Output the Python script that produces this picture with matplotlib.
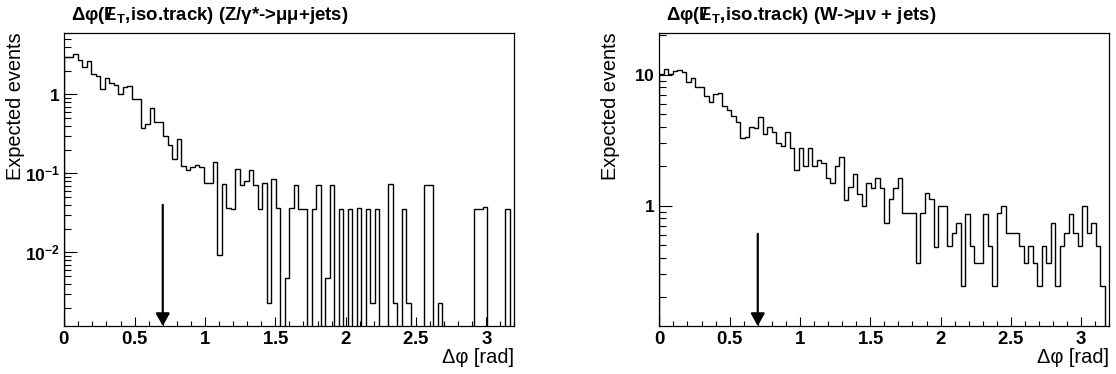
import numpy as np
import matplotlib
matplotlib.use("Agg")
import matplotlib.pyplot as plt
from matplotlib.ticker import FixedLocator, LogLocator, FuncFormatter, MultipleLocator

# binning of both histograms: 100 bins in [0, 3.2] rad
n_bins = 100
x_min, x_max = 0.0, 3.2

# Z/gamma* -> mumu + jets (expected events per bin)
zmm_counts = [
    3.0, 3.0, 3.21, 2.72, 2.24, 2.67, 1.79, 1.71, 1.16, 1.59,
    1.38, 1.31, 1.01, 1.23, 1.27, 0.865, 0.865, 0.371, 0.417, 0.678,
    0.451, 0.451, 0.300, 0.228, 0.152, 0.269, 0.124, 0.110, 0.121, 0.126,
    0.119, 0.0762, 0.0762, 0.141, 0.00925, 0.0726, 0.0367, 0.035, 0.1146, 0.0705,
    0.0792, 0.109, 0.0705, 0.035, 0.0747, 0.00231, 0.0839, 0.0367, 0.0, 0.00469,
    0.0367, 0.0719, 0.035, 0.035, 0.0, 0.035, 0.0705, 0.0, 0.00469, 0.0705,
    0.0, 0.035, 0.0, 0.035, 0.0, 0.0367, 0.0, 0.035, 0.00231, 0.035,
    0.0, 0.0, 0.0726, 0.00231, 0.0, 0.035, 0.00231, 0.0, 0.0, 0.0,
    0.0705, 0.0705, 0.0, 0.00231, 0.0, 0.0, 0.0, 0.0, 0.0, 0.0,
    0.0, 0.035, 0.035, 0.0371, 0.0, 0.0, 0.0, 0.0, 0.035, 0.0,
]

# W -> mu nu + jets
wmn_counts = [
    10.2, 11.0, 10.2, 10.7, 10.9, 10.4, 8.84, 9.49, 8.0, 8.0,
    6.87, 6.22, 7.12, 7.20, 5.77, 5.37, 4.86, 4.38, 3.26, 3.36,
    4.01, 3.89, 4.78, 3.50, 4.01, 3.63, 2.99, 2.87, 3.63, 2.77,
    1.87, 2.74, 2.01, 2.74, 2.01, 2.23, 2.13, 1.62, 1.48, 2.01,
    2.37, 1.10, 1.38, 1.74, 1.23, 0.995, 1.48, 1.36, 1.62, 1.36,
    0.742, 1.12, 1.36, 1.62, 0.874, 0.874, 0.874, 0.363, 0.874, 1.24,
    1.12, 0.486, 0.995, 0.995, 0.492, 0.622, 0.742, 0.244, 0.863, 0.492,
    0.367, 0.367, 0.863, 0.492, 0.244, 0.874, 0.994, 0.622, 0.622, 0.622,
    0.492, 0.367, 0.492, 0.367, 0.244, 0.492, 0.367, 0.742, 0.244, 0.492,
    0.622, 0.863, 0.622, 0.492, 0.994, 0.622, 0.742, 0.492, 0.244, 0.0,
]

titles = [
    "Δφ(" + r"$\,/\!\!\!E_{T}$" + ",iso.track) (Z/γ*->μμ+jets)",
    "Δφ(" + r"$\,/\!\!\!E_{T}$" + ",iso.track) (W->μν + jets)",
]
y_ranges = [(0.00117, 6.03), (0.1206, 20.9)]
cut_value = 0.7
arrow_tops = [0.04, 0.61]

plt.rcParams['font.family'] = ['Liberation Sans', 'DejaVu Sans']
plt.rcParams['mathtext.fontset'] = 'custom'
plt.rcParams['mathtext.rm'] = 'Liberation Sans'
plt.rcParams['mathtext.bf'] = 'Liberation Sans:bold'
plt.rcParams['mathtext.it'] = 'Liberation Sans:italic'
plt.rcParams['mathtext.default'] = 'bf'


def log_label(v, pos):
    e = int(round(np.log10(v)))
    if e == 0:
        return r'$1$'
    if e == 1:
        return r'$10$'
    return r'$10^{%d}$' % e


def draw_panel(ax, counts, title, y_range, arrow_top):
    edges = np.linspace(x_min, x_max, n_bins + 1)
    floor = y_range[0] * 1e-3
    vals = np.maximum(np.array(counts), floor)  # empty bins drop to the bottom
    ax.stairs(vals, edges, baseline=floor, color='black', lw=1.0)

    ax.set_yscale('log')
    ax.set_xlim(x_min, x_max)
    ax.set_ylim(*y_range)

    ax.xaxis.set_major_locator(FixedLocator([0, 0.5, 1, 1.5, 2, 2.5, 3]))
    ax.xaxis.set_minor_locator(MultipleLocator(0.1))
    ax.xaxis.set_major_formatter(FuncFormatter(lambda v, p: r'$%g$' % v))
    ax.yaxis.set_major_locator(LogLocator(base=10, subs=(1.0,)))
    ax.yaxis.set_minor_locator(LogLocator(base=10, subs=np.arange(2, 10), numticks=20))
    ax.yaxis.set_major_formatter(FuncFormatter(log_label))
    ax.yaxis.set_minor_formatter(FuncFormatter(lambda v, p: ''))

    ax.tick_params(which='both', direction='in', top=False, right=False,
                   width=0.8, color='black')
    ax.tick_params(axis='x', which='major', length=6.5, pad=3.5, labelsize=13.4)
    ax.tick_params(axis='x', which='minor', length=3.5)
    ax.tick_params(axis='y', which='major', length=9, pad=3, labelsize=12.6)
    ax.tick_params(axis='y', which='minor', length=5)
    for s in ax.spines.values():
        s.set_linewidth(0.9)

    ax.set_xlabel("Δφ [rad]", fontsize=14.4, loc='right')
    ax.xaxis.set_label_coords(1.0, -0.075)
    ax.set_ylabel("Expected events", fontsize=14.4, loc='top')
    ax.yaxis.set_label_coords(-0.088, 1.0)

    ax.text(0.015, 1.06, title, transform=ax.transAxes, fontsize=13.4,
            fontweight='bold', ha='left', va='center')

    ax.annotate('', xy=(cut_value, y_range[0]), xytext=(cut_value, arrow_top),
                arrowprops=dict(arrowstyle='-|>,head_length=0.75,head_width=0.42',
                                lw=1.6, color='black', shrinkA=0, shrinkB=0))


fig = plt.figure(figsize=(11.16, 3.74), dpi=100)
ax1 = fig.add_axes([0.0576, 0.1283, 0.4034, 0.7842])
ax2 = fig.add_axes([0.5908, 0.1283, 0.4032, 0.7842])

draw_panel(ax1, zmm_counts, titles[0], y_ranges[0], arrow_tops[0])
draw_panel(ax2, wmn_counts, titles[1], y_ranges[1], arrow_tops[1])

plt.savefig('out.png', dpi=100)
